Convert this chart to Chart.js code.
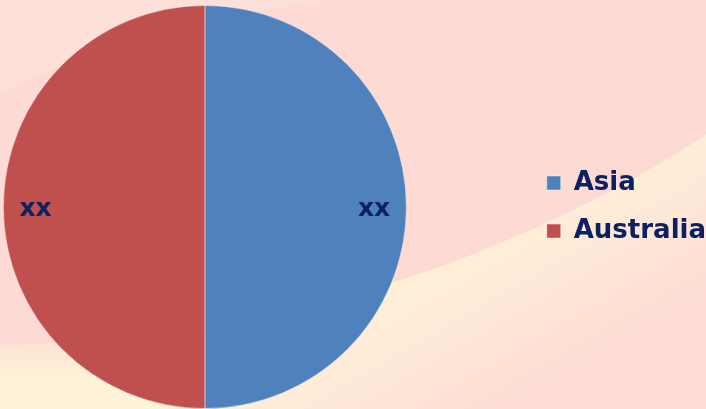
<!DOCTYPE html>
<html>
<head>
<meta charset="utf-8">
<script src="https://cdn.jsdelivr.net/npm/chart.js@4"></script>
<style>
  html, body { margin: 0; padding: 0; overflow: hidden; background: #fddcd5; }
  /* canvas is wider than the window so the pie sits left and the legend hugs the right edge */
  #wrap { width: 831px; height: 409px; position: relative; margin-left: -115px; }
</style>
</head>
<body>
<div id="wrap"><canvas id="myChart"></canvas></div>
<script>
// chart data
const regions = ["Asia", "Australia"];
const shares = [50, 50];
const sliceLabels = ["xx", "xx"];
const sliceColors = ["#4f81bd", "#c0504d"];

const navy = "#0d2161";
const SHIFT = 115;

// soft pink / cream wave behind the chart
const backdrop = {
  id: "backdrop",
  beforeDraw(chart) {
    const ctx = chart.ctx;
    const w = 706, h = chart.height;
    ctx.save();
    ctx.translate(SHIFT, 0);
    ctx.fillStyle = "#fddbd4";
    ctx.fillRect(-SHIFT, 0, chart.width, h);

    // lighter pink top left
    ctx.fillStyle = "rgba(255,236,232,0.35)";
    ctx.beginPath();
    ctx.moveTo(0, 0);
    ctx.lineTo(0, 95);
    ctx.quadraticCurveTo(120, 30, 330, 0);
    ctx.closePath();
    ctx.fill();

    // cream band, sharp on the right, fading out on the left
    const cream = ctx.createLinearGradient(450, 230, 560, 420);
    cream.addColorStop(0, "#fff2d8");
    cream.addColorStop(0.35, "#feead8");
    cream.addColorStop(0.85, "#fddcd4");
    ctx.fillStyle = cream;
    ctx.beginPath();
    ctx.moveTo(0, 345);
    ctx.bezierCurveTo(200, 340, 450, 300, w, 135);
    ctx.lineTo(w, h);
    ctx.lineTo(0, h);
    ctx.closePath();
    ctx.fill();

    const fade = ctx.createLinearGradient(0, 330, 0, 380);
    fade.addColorStop(0, "rgba(253,219,212,0.9)");
    fade.addColorStop(1, "rgba(253,219,212,0)");
    ctx.fillStyle = fade;
    ctx.fillRect(0, 330, 260, 50);
    ctx.restore();
  }
};

// "xx" text inside each slice
const sliceText = {
  id: "sliceText",
  afterDatasetsDraw(chart) {
    const ctx = chart.ctx;
    const meta = chart.getDatasetMeta(0);
    ctx.save();
    ctx.font = "bold 25px 'DejaVu Sans'";
    ctx.fillStyle = navy;
    ctx.textAlign = "center";
    ctx.textBaseline = "middle";
    meta.data.forEach((arc, i) => {
      const p = arc.getProps(["x", "y", "startAngle", "endAngle", "outerRadius"], true);
      const mid = (p.startAngle + p.endAngle) / 2;
      const r = p.outerRadius * 0.84;
      ctx.fillText(sliceLabels[i], p.x + Math.cos(mid) * r, p.y + Math.sin(mid) * r + 2);
    });
    ctx.restore();
  }
};

new Chart(document.getElementById("myChart"), {
  type: "pie",
  data: {
    labels: regions,
    datasets: [{
      data: shares,
      backgroundColor: sliceColors,
      borderColor: "rgba(255,255,255,0.45)",
      borderWidth: 1
    }]
  },
  options: {
    responsive: true,
    maintainAspectRatio: false,
    animation: false,
    layout: { padding: { left: 0, top: 5, bottom: 0, right: 0 } },
    plugins: {
      tooltip: { enabled: false },
      legend: {
        position: "right",
        labels: {
          boxWidth: 14,
          boxHeight: 14,
          padding: 22,
          color: navy,
          font: { family: "'DejaVu Sans'", size: 26, weight: "bold" }
        }
      }
    }
  },
  plugins: [backdrop, sliceText]
});
</script>
</body>
</html>
